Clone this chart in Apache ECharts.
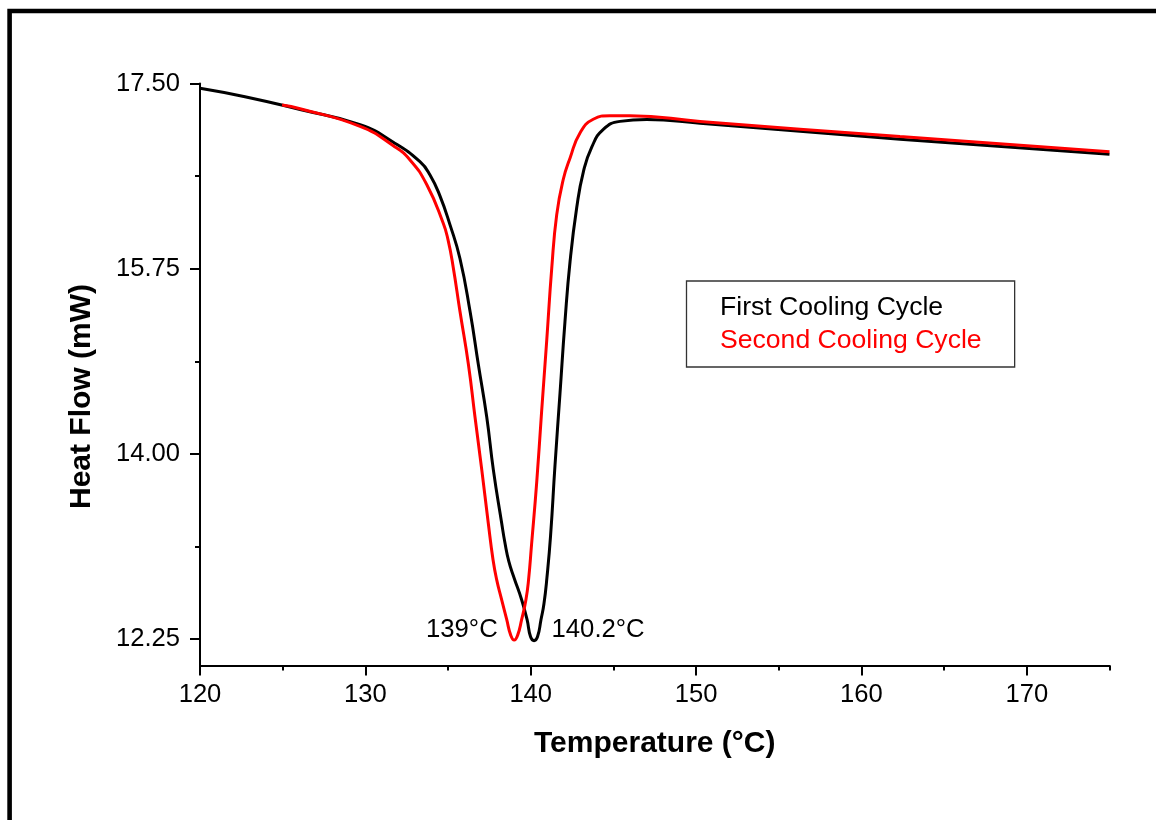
<!DOCTYPE html>
<html>
<head>
<meta charset="utf-8">
<title>DSC Cooling Cycles</title>
<script src="https://cdn.jsdelivr.net/npm/echarts@6/dist/echarts.min.js"></script>
<style>
html, body { margin: 0; padding: 0; background: #fff; }
#chart { width: 1156px; height: 820px; }
</style>
</head>
<body>
<div id="chart"></div>
<script>
// DSC cooling traces: temperature (°C) against heat flow (mW)
const seriesNames = ['First Cooling Cycle', 'Second Cooling Cycle'];
const seriesColors = ['#000000', '#ff0000'];

const firstTemp = [120.00, 122.72, 126.05, 129.68, 131.69, 133.30, 133.91, 134.51, 135.12, 135.72,
  136.33, 136.83, 137.34, 137.74, 138.24, 138.44, 138.68, 138.99, 139.45, 139.78,
  139.99, 140.2, 140.41, 140.62, 140.80, 140.98, 141.20, 141.47, 141.77, 142.07,
  142.38, 142.78, 143.18, 143.69, 144.39, 145.40, 147.01, 150.24, 162.33, 175.0];
const firstFlow = [17.455, 17.375, 17.254, 17.111, 16.945, 16.761, 16.636, 16.438, 16.164, 15.846,
  15.347, 14.847, 14.348, 13.849, 13.349, 13.160, 12.981, 12.830, 12.622, 12.433,
  12.271, 12.235, 12.271, 12.433, 12.584, 12.830, 13.227, 13.897, 14.571, 15.248,
  15.820, 16.325, 16.663, 16.899, 17.067, 17.142, 17.159, 17.125, 16.973, 16.831];

const secondTemp = [124.96, 126.05, 129.68, 131.69, 132.70, 133.71, 134.71, 135.00, 135.30, 135.72,
  136.23, 136.63, 137.04, 137.43, 137.72, 137.94, 138.24, 138.55, 138.79, 139.0,
  139.21, 139.45, 139.71, 139.87, 140.05, 140.36, 140.66, 140.97, 141.27, 141.57,
  141.97, 142.38, 142.98, 143.78, 144.79, 146.00, 150.24, 162.33, 175.0];
const secondFlow = [17.297, 17.262, 17.095, 16.912, 16.778, 16.545, 16.179, 16.022, 15.776, 15.347,
  14.847, 14.348, 13.849, 13.349, 13.000, 12.811, 12.622, 12.433, 12.287, 12.240,
  12.287, 12.433, 12.622, 12.811, 13.142, 13.728, 14.403, 15.078, 15.752, 16.258,
  16.595, 16.797, 17.033, 17.162, 17.196, 17.196, 17.142, 16.998, 16.856];

// crystallisation peak temperatures (first, second)
const peakTemps = [140.2, 139];

const xMajorTicks = [120, 130, 140, 150, 160, 170];
const xMinorTicks = [125, 135, 145, 155, 165, 175];
const yMajorTicks = [12.25, 14.00, 15.75, 17.50];
const yMinorTicks = [13.125, 14.875, 16.625];

const FONT = "'Liberation Sans', Arial, Helvetica, sans-serif";

function buildData(temps, flows, peak, side, color) {
  return temps.map((t, i) => {
    if (t !== peak) return [t, flows[i]];
    return {
      value: [t, flows[i]],
      symbol: 'circle',
      symbolSize: 1,
      itemStyle: { color: color },
      label: {
        show: true,
        position: side,
        distance: side === 'left' ? 16 : 17,
        offset: [0, -10.5],
        formatter: () => peak + '°C',
        color: '#000',
        fontFamily: FONT,
        fontSize: 25.7
      }
    };
  });
}

const axisLineStyle = { color: '#000', width: 2 };

const chart = echarts.init(document.getElementById('chart'), null, { renderer: 'canvas' });
chart.setOption({
  animation: false,
  backgroundColor: '#fff',
  grid: {
    left: 200, top: 83.5, width: 909.5, height: 582,
    containLabel: false, outerBoundsMode: 'none'
  },
  legend: {
    orient: 'vertical',
    left: 686.5, top: 281,
    icon: 'none',
    itemWidth: 0, itemHeight: 10, itemGap: 6,
    padding: [13, 33, 13, 28.5],
    borderColor: '#333', borderWidth: 1.3,
    selectedMode: false,
    textStyle: { fontFamily: FONT, fontSize: 26.6, color: '#000' },
    data: seriesNames.map((n, i) => ({ name: n, textStyle: { color: seriesColors[i] } }))
  },
  xAxis: [{
    type: 'value', min: 120, max: 175, position: 'bottom',
    axisLine: { show: true, lineStyle: axisLineStyle },
    axisTick: { show: true, inside: false, length: 10, lineStyle: axisLineStyle, customValues: xMajorTicks },
    axisLabel: { show: true, customValues: xMajorTicks, margin: 16, color: '#000', fontFamily: FONT, fontSize: 25.6 },
    splitLine: { show: false },
    name: 'Temperature (°C)', nameLocation: 'middle', nameGap: 63,
    nameTextStyle: { fontFamily: FONT, fontSize: 30, fontWeight: 'bold', color: '#000' }
  }, {
    type: 'value', min: 120, max: 175, position: 'bottom',
    axisLine: { show: false },
    axisTick: { show: true, inside: false, length: 5, lineStyle: axisLineStyle, customValues: xMinorTicks },
    axisLabel: { show: false },
    splitLine: { show: false }
  }],
  yAxis: [{
    type: 'value', min: 12, max: 17.5, position: 'left',
    axisLine: { show: true, lineStyle: axisLineStyle },
    axisTick: { show: true, inside: false, length: 10, lineStyle: axisLineStyle, customValues: yMajorTicks },
    axisLabel: {
      show: true, customValues: yMajorTicks, margin: 20, color: '#000', fontFamily: FONT, fontSize: 25.6,
      formatter: v => v.toFixed(2)
    },
    splitLine: { show: false },
    name: 'Heat Flow (mW)', nameLocation: 'middle', nameGap: 103, nameRotate: 90,
    nameTextStyle: { fontFamily: FONT, fontSize: 30, fontWeight: 'bold', color: '#000', padding: [0, 44, 0, 0] }
  }, {
    type: 'value', min: 12, max: 17.5, position: 'left',
    axisLine: { show: false },
    axisTick: { show: true, inside: false, length: 5, lineStyle: axisLineStyle, customValues: yMinorTicks },
    axisLabel: { show: false },
    splitLine: { show: false }
  }],
  graphic: [{
    type: 'rect', silent: true, z: 100,
    shape: { x: 9.6, y: 11, width: 1300, height: 1000 },
    style: { fill: 'none', stroke: '#000', lineWidth: 4.6 }
  }],
  series: [{
    name: seriesNames[0], type: 'line', xAxisIndex: 0, yAxisIndex: 0,
    data: buildData(firstTemp, firstFlow, peakTemps[0], 'right', seriesColors[0]),
    symbol: 'none', showSymbol: true, showAllSymbol: true,
    smooth: 0.5,
    lineStyle: { color: seriesColors[0], width: 3 },
    itemStyle: { color: seriesColors[0] },
    emphasis: { disabled: true },
    z: 2
  }, {
    name: seriesNames[1], type: 'line', xAxisIndex: 0, yAxisIndex: 0,
    data: buildData(secondTemp, secondFlow, peakTemps[1], 'left', seriesColors[1]),
    symbol: 'none', showSymbol: true, showAllSymbol: true,
    smooth: 0.5,
    lineStyle: { color: seriesColors[1], width: 3 },
    itemStyle: { color: seriesColors[1] },
    emphasis: { disabled: true },
    z: 3
  }]
});
</script>
</body>
</html>
